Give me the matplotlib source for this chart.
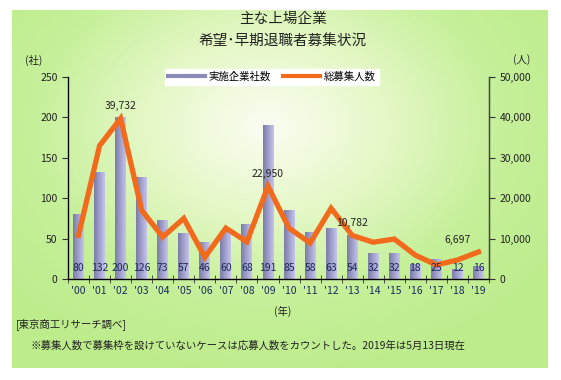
import matplotlib.pyplot as plt
import numpy as np
from matplotlib.colors import LinearSegmentedColormap
from matplotlib.lines import Line2D

plt.rcParams['font.family'] = ['Noto Sans CJK JP', 'DejaVu Sans']

# データ
years = ["'00", "'01", "'02", "'03", "'04", "'05", "'06", "'07", "'08", "'09",
         "'10", "'11", "'12", "'13", "'14", "'15", "'16", "'17", "'18", "'19"]
companies = [80, 132, 200, 126, 73, 57, 46, 60, 68, 191,
             85, 58, 63, 54, 32, 32, 18, 25, 12, 16]
people = [10800, 33000, 39732, 17000, 10400, 15000, 5400, 12600, 9200, 22950,
          12600, 8900, 17500, 10782, 9100, 9900, 5900, 3500, 4700, 6697]
labeled_people = {2: '39,732', 9: '22,950', 13: '10,782', 19: '6,697'}

fig = plt.figure(figsize=(5.61, 3.8), dpi=100)

# 背景のグラデーション
bg = fig.add_axes([12 / 561, 1 - 368 / 380, 536 / 561, 358 / 380])
bg.set_axis_off()
gx, gy = np.meshgrid(np.linspace(-1, 1, 300), np.linspace(-1, 1, 200))
r = np.sqrt(((gx + 0.05) / 1.0) ** 2 + ((gy + 0.35) / 1.1) ** 2)
bg_cmap = LinearSegmentedColormap.from_list('bg', ['#fbfdf2', '#e6f8c8', '#c6f09a', '#bdec8c'])
bg.imshow(np.clip(r, 0, 1.3), cmap=bg_cmap, aspect='auto', extent=[0, 1, 0, 1], origin='upper')
bg.set_xlim(0, 1)
bg.set_ylim(0, 1)

ax = fig.add_axes([68 / 561, 1 - 279 / 380, (489 - 68) / 561, (279 - 77) / 380])
ax.patch.set_alpha(0)
x = np.arange(len(years))

# 棒グラフ(グラデーション)
bars = ax.bar(x, companies, width=0.52, color='none', zorder=2)
bar_cmap = LinearSegmentedColormap.from_list('bar', ['#7c7ca8', '#a0a0cc', '#c4c4ec'])
grad = np.linspace(0, 1, 64).reshape(1, -1)
for b in bars:
    x0, w, h = b.get_x(), b.get_width(), b.get_height()
    im = ax.imshow(grad, cmap=bar_cmap, aspect='auto', extent=[x0, x0 + w, 0, h], zorder=2)
    im.set_clip_path(b)

ax.set_xlim(-0.5, len(years) - 0.5)
ax.set_ylim(0, 250)
ax.set_yticks(range(0, 251, 50))
ax.set_xticks(x)
ax.set_xticklabels(years, fontsize=7.5, color='#1c2a5c')
ax.set_xticks(np.arange(-0.5, len(years), 1), minor=True)
ax.tick_params(axis='x', which='major', length=0, pad=5)
ax.tick_params(axis='x', which='minor', length=6, direction='inout', color='#333333')
ax.tick_params(axis='y', labelsize=7.5, length=4, color='#333333', labelcolor='#222222')
ax.spines['top'].set_visible(False)
for s in ['left', 'bottom', 'right']:
    ax.spines[s].set_color('#444444')
    ax.spines[s].set_linewidth(1.0)

# 折れ線(右軸)
ax2 = ax.twinx()
ax2.plot(x, people, color='#f26b1d', linewidth=3.8, solid_joinstyle='miter', zorder=4)
ax2.set_ylim(0, 50000)
ax2.set_yticks(range(0, 50001, 10000))
ax2.set_yticklabels(['0'] + ['{:,}'.format(v) for v in range(10000, 50001, 10000)])
ax2.tick_params(axis='y', labelsize=7.5, length=4, color='#333333', labelcolor='#222222')
ax2.spines['top'].set_visible(False)
ax2.spines['right'].set_color('#444444')

# 社数ラベル(折れ線より前面)
for i, v in enumerate(companies):
    ax2.text(i, 1600, str(v), ha='center', va='bottom', fontsize=7.5, color='#1c2a5c', zorder=5)

for i, lab in labeled_people.items():
    if i == len(years) - 1:
        ax2.text(i - 0.35, people[i] + 1800, lab, ha='right', va='bottom', fontsize=7.5, color='#222222', zorder=5)
    else:
        ax2.text(i, people[i] + 1800, lab, ha='center', va='bottom', fontsize=7.5, color='#222222', zorder=5)

# 凡例
handles = [Line2D([0], [0], color='#8c8cb8', linewidth=3),
           Line2D([0], [0], color='#f26b1d', linewidth=3)]
leg = fig.legend(handles, ['実施企業社数', '総募集人数'], loc='center', ncol=2,
                 bbox_to_anchor=(272 / 561, 1 - 77 / 380), fontsize=7.5, frameon=True,
                 fancybox=False, edgecolor='white', framealpha=1, handlelength=3.5,
                 columnspacing=1.2, borderpad=0.3, handletextpad=0.4)

# テキスト
fig.text(283 / 561, 1 - 19 / 380, '主な上場企業', ha='center', va='center', fontsize=10.5, color='#222222')
fig.text(283 / 561, 1 - 41 / 380, '希望･早期退職者募集状況', ha='center', va='center', fontsize=10.5, color='#222222')
fig.text(34 / 561, 1 - 60 / 380, '(社)', ha='center', va='center', fontsize=7.5, color='#222222')
fig.text(522 / 561, 1 - 60 / 380, '(人)', ha='center', va='center', fontsize=7.5, color='#222222')
fig.text(283 / 561, 1 - 311 / 380, '(年)', ha='center', va='center', fontsize=7.5, color='#222222')
fig.text(16 / 561, 1 - 324 / 380, '[東京商工リサーチ調べ]', ha='left', va='center', fontsize=7.5, color='#222222')
fig.text(30 / 561, 1 - 346 / 380, '※募集人数で募集枠を設けていないケースは応募人数をカウントした。2019年は5月13日現在',
         ha='left', va='center', fontsize=7.5, color='#222222')

fig.savefig('out.png', dpi=100)
